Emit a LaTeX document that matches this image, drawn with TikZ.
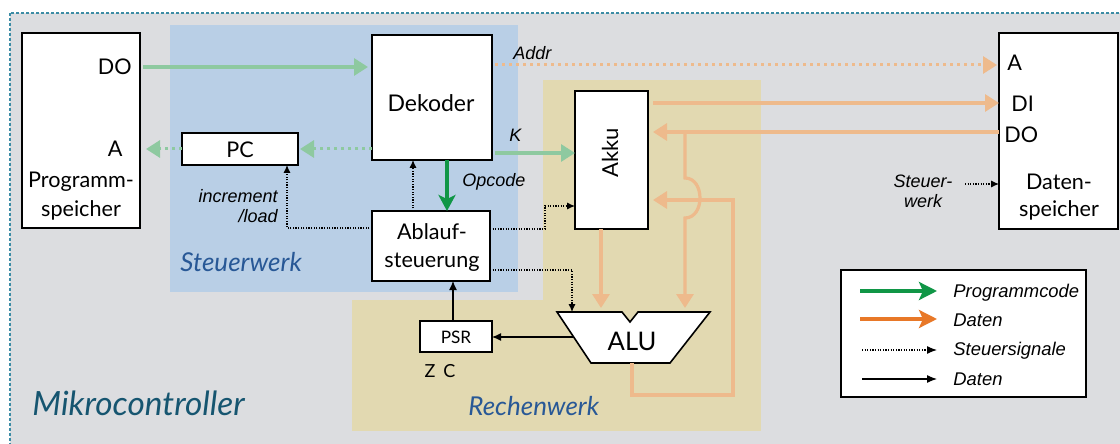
\documentclass[tikz,border=0pt]{standalone}
\usepackage{fontspec}
\setmainfont{Lato}
\newfontfamily\labf{Liberation Sans}
\usetikzlibrary{arrows.meta}
\definecolor{bgGray}{RGB}{220,221,224}
\definecolor{bluer}{RGB}{185,207,230}
\definecolor{yellr}{RGB}{226,217,177}
\definecolor{frameC}{RGB}{60,140,165}
\definecolor{lgreenC}{RGB}{142,201,160}
\definecolor{dgreenC}{RGB}{16,150,70}
\definecolor{lorangeC}{RGB}{238,186,140}
\definecolor{dorangeC}{RGB}{232,120,40}
\definecolor{sblue}{RGB}{40,88,150}
\definecolor{mteal}{RGB}{22,85,112}
\begin{document}
\begin{tikzpicture}[x=0.5pt,y=-0.5pt,
  box/.style={draw=black, line width=0.8pt, fill=white, inner sep=0pt, outer sep=0pt},
  lbl/.style={font=\fontsize{10.8}{12}\selectfont, inner sep=0pt, anchor=base},
  itl/.style={font=\labf\itshape\fontsize{9}{10}\selectfont, inner sep=0pt, anchor=base},
  bigtip/.style={-{Triangle[length=7pt,width=8.5pt]}},
  lgreen/.style={draw=lgreenC, line width=1.6pt, bigtip},
  lgreendot/.style={draw=lgreenC, line width=1.5pt, dash pattern=on 1.5pt off 2pt, bigtip},
  dgreen/.style={draw=dgreenC, line width=1.6pt, -{Stealth[length=8pt,width=8.5pt,inset=2pt]}},
  lorange/.style={draw=lorangeC, line width=1.6pt, bigtip},
  lorangedot/.style={draw=lorangeC, line width=1.5pt, dash pattern=on 1.5pt off 2pt, bigtip},
  ctrl/.style={draw=black, line width=0.6pt, dash pattern=on 0.6pt off 0.7pt, -{Latex[length=4pt,width=3.6pt]}},
  dat/.style={draw=black, line width=0.6pt, -{Latex[length=4.5pt,width=4pt]}}
]
\useasboundingbox (0,0) rectangle (1120,444);
\fill[white] (0,0) rectangle (1120,444);
\begin{scope}
\clip (0,0) rectangle (1120,444);
\fill[bgGray] (10,13) rectangle (1140,460);
\draw[frameC, line width=0.7pt, dash pattern=on 1.5pt off 1pt] (10,13) rectangle (1140,460);
\end{scope}
% regions
\fill[bluer] (170,25) rectangle (518,292);
\fill[yellr] (352,300) rectangle (545,431);
\fill[yellr] (543,80) rectangle (761,431);
\node[font=\itshape\fontsize{13}{15}\selectfont, text=sblue, anchor=base west, inner sep=0pt] (swl) at (180,271) {Steuerwerk};
\node[font=\itshape\fontsize{13}{15}\selectfont, text=sblue, anchor=base west, inner sep=0pt] (rwl) at (468,415) {Rechenwerk};
\node[font=\itshape\fontsize{16.7}{18}\selectfont, text=mteal, anchor=base west, inner sep=0pt] (mcl) at (32,415) {Mikrocontroller};

% boxes
\node[box, minimum width=59pt, minimum height=97.5pt] (ps) at (81,130.5) {};
\node[box, minimum width=58pt, minimum height=16pt] (pc) at (240,149) {};
\node[box, minimum width=60pt, minimum height=62.5pt] (dek) at (432,97.5) {};
\node[box, minimum width=59pt, minimum height=35pt] (abl) at (431,246) {};
\node[box, minimum width=36.5pt, minimum height=69pt] (akku) at (611.5,160) {};
\node[box, minimum width=36pt, minimum height=15.5pt] (psr) at (456,336.5) {};
\node[box, minimum width=59.5pt, minimum height=98pt] (ds) at (1058.5,131) {};
\node[box, minimum width=122.5pt, minimum height=63.5pt] (leg) at (963.5,333.5) {};

% ALU shape
\draw[box] (557,312) -- (622,312) -- (630,322) -- (638,312) -- (710,312) -- (670,363) -- (591,363) -- cycle;
\coordinate (aluA) at (572,312);
\coordinate (aluB) at (601,312);
\coordinate (aluC) at (685,312);
\coordinate (aluL) at (574,337);
\coordinate (aluO) at (632,363);

% labels in boxes
\node[lbl, anchor=base east] (psdo) at (132,75) {DO};
\node[lbl, anchor=base east] (psa) at (123,156) {A};
\node[lbl] (psn1) at (81,188) {Programm-};
\node[lbl] (psn2) at (81,217) {speicher};
\node[lbl] (pcl) at (240,158) {PC};
\node[lbl, font=\fontsize{11.5}{13}\selectfont] (dekl) at (431,112) {Dekoder};
\node[lbl] (abl1) at (432,240) {Ablauf-};
\node[lbl] (abl2) at (432,267) {steuerung};
\node[lbl, font=\fontsize{11}{13}\selectfont, rotate=90, anchor=center] (akl) at (610,153) {Akku};
\node[lbl, font=\fontsize{8.6}{10}\selectfont] (psrl) at (456,343) {PSR};
\node[lbl, font=\fontsize{9}{10}\selectfont] (zc) at (440,377) {Z\hspace{0.45em}C};
\node[lbl, font=\fontsize{12.8}{14}\selectfont] (alul) at (632,350) {ALU};
\node[lbl, anchor=base west] (dsa) at (1007,71) {A};
\node[lbl, anchor=base west] (dsdi) at (1011,112) {DI};
\node[lbl, anchor=base west] (dsdo) at (1004,143) {DO};
\node[lbl] (dsn1) at (1059,190) {Daten-};
\node[lbl] (dsn2) at (1059,217) {speicher};

% italic labels
\node[itl, anchor=base west] (addrl) at (513,60) {Addr};
\node[itl, anchor=base west] (kl) at (509,142) {K};
\node[itl, anchor=base west] (opl) at (462,186) {Opcode};
\node[itl, anchor=base east] (inc1) at (278,203) {increment};
\node[itl, anchor=base east] (inc2) at (278,222) {/load};
\node[itl] (sw1) at (923,188) {Steuer-};
\node[itl] (sw2) at (923,207) {werk};

% connectors
\draw[lgreen, shorten <=1.5pt, shorten >=2pt] (ps.east |- 0,67) -- (dek.west |- 0,67);
\draw[lgreendot, shorten >=1pt] (dek.west |- pc.east) -- (pc.east);
\draw[lgreendot, shorten >=3pt] (pc.west) -- (ps.east |- pc.west);
\draw[lorangedot, shorten <=1.5pt, shorten >=1pt] (dek.east |- 0,65) -- (ds.west |- 0,65);
\draw[lgreen, shorten <=1.5pt] (dek.east |- 0,153) -- (akku.west |- 0,153);
\draw[dgreen] (dek.south -| 447,0) -- (abl.north -| 447,0);
\draw[ctrl] (abl.north -| 413,0) -- (dek.south -| 413,0);
\draw[ctrl] (abl.west |- 0,228) -| (pc.south -| 287,0);
\draw[ctrl] (abl.east |- 0,229) -| (545,206) -- (akku.west |- 0,206);
\draw[ctrl] (abl.east |- 0,270) -| (aluA);
\draw[dat] (psr.north -| 453,0) -- (abl.south -| 453,0);
\draw[dat] (aluL) -- (psr.east |- 0,337);
\draw[lorange, shorten <=2.5pt] (akku.east |- 0,103) -- (ds.west |- 0,103);
\draw[lorange, shorten >=2.5pt] (ds.west |- 0,132) -- (akku.east |- 0,132);
\coordinate (br) at (685,132);
\draw[lorange, shorten >=2pt] (br) -- (685,178) .. controls (705,178) and (705,218) .. (685,218) -- (aluC);
\draw[lorange, shorten >=2pt] (akku.south -| 601,0) -- (aluB);
\draw[lorange, shorten >=2.5pt] (aluO) -- (632,395) -- (733,395) -- (733,200) -- (akku.east |- 0,200);
\coordinate (swa) at (965,184);
\draw[ctrl] (swa) -- (ds.west |- swa);

% legend
\coordinate (l1a) at (860,291); \coordinate (l1b) at (937,291);
\coordinate (l2a) at (860,319); \coordinate (l2b) at (937,319);
\coordinate (l3a) at (862,350); \coordinate (l3b) at (937,350);
\coordinate (l4a) at (862,379); \coordinate (l4b) at (937,379);
\draw[draw=dgreenC, line width=2pt, -{Stealth[length=9pt,width=9pt,inset=2pt]}] (l1a) -- (l1b);
\draw[draw=dorangeC, line width=2pt, -{Stealth[length=9pt,width=9pt,inset=2pt]}] (l2a) -- (l2b);
\draw[ctrl, -{Latex[length=5pt,width=4pt]}] (l3a) -- (l3b);
\draw[dat, -{Latex[length=5pt,width=4pt]}] (l4a) -- (l4b);
\node[itl, anchor=base west, font=\labf\itshape\fontsize{9.2}{11}\selectfont] (lt1) at (953,297) {Programmcode};
\node[itl, anchor=base west, font=\labf\itshape\fontsize{9.2}{11}\selectfont] (lt2) at (953,326) {Daten};
\node[itl, anchor=base west, font=\labf\itshape\fontsize{9.2}{11}\selectfont] (lt3) at (953,355) {Steuersignale};
\node[itl, anchor=base west, font=\labf\itshape\fontsize{9.2}{11}\selectfont] (lt4) at (953,385) {Daten};
\end{tikzpicture}
\end{document}
